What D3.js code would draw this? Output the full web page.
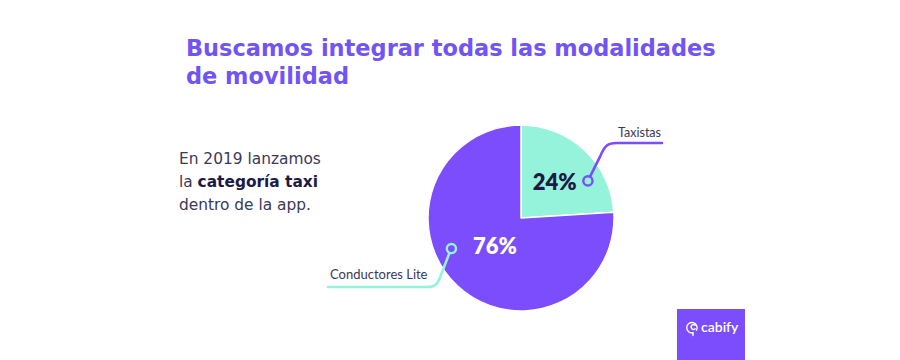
<!DOCTYPE html>
<html><head><meta charset="utf-8">
<script src="https://cdn.jsdelivr.net/npm/d3@7"></script>
<style>html,body{margin:0;padding:0;background:#fff;} svg{display:block;}</style>
</head><body>
<svg id="chart" width="900" height="360"></svg>
<script>
const categories = ["Taxistas", "Conductores Lite"];
const values = [24, 76];
const valueLabels = ["24%", "76%"];
const titleLines = ["Buscamos integrar todas las modalidades", "de movilidad"];
const introLines = [
  [{t:"En 2019 lanzamos", b:false}],
  [{t:"la ", b:false}, {t:"categoría taxi", b:true}],
  [{t:"dentro de la app.", b:false}]
];
const brand = "cabify";

const colors = {Taxistas: "#96f3db", "Conductores Lite": "#7b4dfd"};
const textColors = {Taxistas: "#1d1a45", "Conductores Lite": "#ffffff"};
const leaderColors = {Taxistas: "#7b4dfd", "Conductores Lite": "#96f3db"};

const svg = d3.select("#chart");
const font = "Lato, 'Open Sans', sans-serif";
const titleFont = "'DejaVu Sans', 'Open Sans', sans-serif";

// Title
const title = svg.append("g");
titleLines.forEach((line, i) => {
  title.append("text").attr("x", 186).attr("y", 56 + i * 28)
    .attr("font-family", titleFont).attr("font-weight", 700).attr("font-size", 22)
    .attr("fill", "#7054f6").text(line);
});
const w0 = title.select("text").node().getComputedTextLength();
title.selectAll("text").attr("font-size", Math.min(23, 22 * 530 / w0));

// Intro text
const introG = svg.append("g");
introLines.forEach((parts, i) => {
  const tx = introG.append("text").attr("x", 179).attr("y", 164 + i * 23)
    .attr("font-family", titleFont).attr("font-size", 16).attr("fill", "#3b3858");
  parts.forEach(p => {
    tx.append("tspan").attr("font-weight", p.b ? 700 : 400)
      .attr("fill", p.b ? "#1d1a45" : "#3b3858").text(p.t);
  });
});
const wi = introG.select("text").node().getComputedTextLength();
introG.selectAll("text").attr("font-size", 16 * 142 / wi);

// Pie
const cx = 521, cy = 218, R = 93;
const pie = d3.pie().sort(null).value(d => d.v);
const data = pie(categories.map((c, i) => ({c, v: values[i], l: valueLabels[i]})));
const arc = d3.arc().innerRadius(0).outerRadius(R);
const g = svg.append("g").attr("transform", `translate(${cx},${cy})`);
g.selectAll("path.slice").data(data).join("path").attr("class", "slice")
  .attr("d", arc).attr("fill", d => colors[d.data.c])
  .attr("stroke", "#fff").attr("stroke-width", 1.5).attr("stroke-linejoin", "round");

const labelR = {Taxistas: 0.53, "Conductores Lite": 0.41};
g.selectAll("text.val").data(data).join("text").attr("class", "val")
  .attr("transform", d => {
    const r = R * labelR[d.data.c];
    const a = (d.startAngle + d.endAngle) / 2;
    return `translate(${Math.sin(a) * r},${-Math.cos(a) * r})`;
  })
  .attr("text-anchor", "middle").attr("dy", "0.36em")
  .attr("font-family", font).attr("font-weight", 800).attr("font-size", 22)
  .attr("fill", d => textColors[d.data.c]).text(d => d.data.l);

// Leader lines
const pol = (deg, r) => [Math.sin(deg * Math.PI / 180) * r, -Math.cos(deg * Math.PI / 180) * r];
const leaders = {
  Taxistas: {ang: 61, r: 76.5},
  "Conductores Lite": {ang: 246.3, r: 76}
};
{
  const [x0, y0] = pol(leaders.Taxistas.ang, leaders.Taxistas.r);
  const yH = -75, xEnd = 141;
  const p = d3.path();
  p.moveTo(x0 + 2, y0 - 4);
  p.lineTo(x0 + 12, y0 - 24);
  p.bezierCurveTo(x0 + 17, yH + 2, x0 + 20, yH, x0 + 29, yH);
  p.lineTo(xEnd, yH);
  g.append("path").attr("d", p.toString()).attr("fill", "none")
    .attr("stroke", leaderColors.Taxistas).attr("stroke-width", 2.6).attr("stroke-linecap", "round");
  g.append("circle").attr("cx", x0).attr("cy", y0).attr("r", 4.6)
    .attr("fill", colors.Taxistas).attr("stroke", leaderColors.Taxistas).attr("stroke-width", 2.4);
  g.append("text").attr("x", xEnd - 1).attr("y", yH - 6).attr("text-anchor", "end")
    .attr("font-family", font).attr("font-size", 12.5).attr("fill", "#3b3858").text(categories[0]);
}
{
  const [x0, y0] = pol(leaders["Conductores Lite"].ang, leaders["Conductores Lite"].r);
  const yH = 69, xEnd = -193;
  const p = d3.path();
  p.moveTo(x0 - 2, y0 + 4.5);
  p.lineTo(x0 - 11, y0 + 28);
  p.bezierCurveTo(x0 - 14, yH - 2, x0 - 17, yH, x0 - 24, yH);
  p.lineTo(xEnd, yH);
  g.append("path").attr("d", p.toString()).attr("fill", "none")
    .attr("stroke", leaderColors["Conductores Lite"]).attr("stroke-width", 2.6).attr("stroke-linecap", "round");
  g.append("circle").attr("cx", x0).attr("cy", y0).attr("r", 4.6)
    .attr("fill", colors["Conductores Lite"]).attr("stroke", leaderColors["Conductores Lite"]).attr("stroke-width", 2.4);
  g.append("text").attr("x", xEnd + 2).attr("y", yH - 8).attr("text-anchor", "start")
    .attr("font-family", font).attr("font-size", 13).attr("fill", "#3b3858").text(categories[1]);
}

// Brand box
const bx = 677, by = 309;
svg.append("rect").attr("x", bx).attr("y", by).attr("width", 68).attr("height", 51).attr("fill", "#7b4dfd");
const logo = svg.append("g").attr("transform", `translate(${bx + 16},${by + 18})`)
  .attr("fill", "none").attr("stroke", "#fff").attr("stroke-width", 1.4).attr("stroke-linecap", "round");
logo.append("path").attr("d", "M3.5,3.2 A5.2,5.2 0 1 0 0,5.8 L0,8.5");
logo.append("path").attr("d", "M2.2,-1.8 A2.4,2.4 0 1 0 2.2,1.8");
svg.append("text").attr("x", bx + 24).attr("y", by + 23)
  .attr("font-family", font).attr("font-size", 14).attr("font-weight", 600)
  .attr("fill", "#fff").text(brand);
</script>
</body></html>
